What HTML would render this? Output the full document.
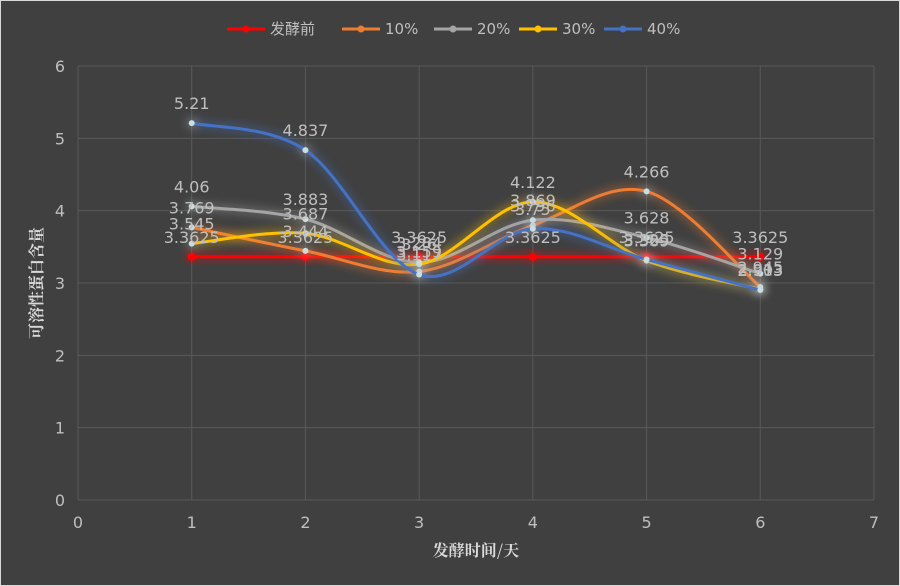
<!DOCTYPE html>
<html><head><meta charset="utf-8"><style>
html,body{margin:0;padding:0;background:#fff}
svg{display:block}
text{font-family:"DejaVu Sans","Noto Sans CJK SC",sans-serif}
</style></head><body>
<svg id="chart" width="900" height="586" xmlns="http://www.w3.org/2000/svg">
<defs>
<filter id="glow" x="-20%" y="-50%" width="140%" height="200%"><feGaussianBlur in="SourceGraphic" stdDeviation="5" result="b"/><feMerge><feMergeNode in="b"/><feMergeNode in="SourceGraphic"/></feMerge></filter>
</defs>
<rect x="0.5" y="0.5" width="899" height="585" fill="#404040" stroke="#d9d9d9"/>
<g id="grid"></g><g id="axes"></g><g id="series"></g><g id="labels"></g><g id="legend"></g>
<text x="476" y="556" fill="#d9d9d9" font-size="16" font-weight="bold" text-anchor="middle" style="font-family:'Noto Serif CJK SC',serif">发酵时间/天</text>
<text transform="translate(42,283) rotate(-90)" fill="#d9d9d9" font-size="16" font-weight="bold" text-anchor="middle" style="font-family:'Noto Serif CJK SC',serif">可溶性蛋白含量</text>
</svg>
<script>
const days=[1,2,3,4,5,6];
const seriesNames=["发酵前","10%","20%","30%","40%"];
const colors=["#ff0000","#ed7d31","#a5a5a5","#ffc000","#4472c4"];
const s0=[3.3625,3.3625,3.3625,3.3625,3.3625,3.3625];
const s10=[3.769,3.444,3.159,3.796,4.266,2.945];
const s20=[4.06,3.883,3.284,3.869,3.628,3.129];
const s30=[3.545,3.687,3.26,4.122,3.309,2.913];
const s40=[5.21,4.837,3.117,3.75,3.325,2.903];
const xTicks=[0,1,2,3,4,5,6,7];
const yTicks=[0,1,2,3,4,5,6];
const all=[s0,s10,s20,s30,s40];
const L=78,R=874,T=66,B=500;
const X=v=>L+(v-0)/(7-0)*(R-L);
const Y=v=>B-(v-0)/(6-0)*(B-T);
const NS="http://www.w3.org/2000/svg";
function mk(tag,attrs,parent){const e=document.createElementNS(NS,tag);for(const k in attrs)e.setAttribute(k,attrs[k]);parent.appendChild(e);return e;}
const grid=document.getElementById('grid'),axes=document.getElementById('axes');
yTicks.forEach(t=>{const l=mk('line',{x1:L,x2:R,y1:Y(t),y2:Y(t),stroke:'#595959'},grid);


const tx=mk('text',{x:60,y:Y(t)+6,fill:'#bfbfbf','font-size':16,'text-anchor':'middle'},axes);tx.textContent=t;

});
xTicks.forEach(t=>{const l=mk('line',{x1:X(t),x2:X(t),y1:T,y2:B,stroke:'#595959'},grid);


const tx=mk('text',{x:X(t),y:B+28,fill:'#bfbfbf','font-size':16,'text-anchor':'middle'},axes);tx.textContent=t;

});
function smooth(pts){let d=`M${pts[0][0]},${pts[0][1]}`;for(let i=0;i<pts.length-1;i++){const p0=pts[i-1]||pts[i],p1=pts[i],p2=pts[i+1],p3=pts[i+2]||p2;const k=1/6;
const c1=[p1[0]+(p2[0]-p0[0])*k,p1[1]+(p2[1]-p0[1])*k];const c2=[p2[0]-(p3[0]-p1[0])*k,p2[1]-(p3[1]-p1[1])*k];
d+=` C${c1[0]},${c1[1]} ${c2[0]},${c2[1]} ${p2[0]},${p2[1]}`;}return d;}
const sg=document.getElementById('series'),lg=document.getElementById('labels');
all.forEach((s,si)=>{const pts=days.map((d,i)=>[X(d),Y(s[i])]);
const g=mk('g',{filter:'url(#glow)'},sg);


const p=mk('path',{d:si===0?('M'+pts.map(p=>p.join(',')).join(' L')):smooth(pts),fill:'none',stroke:colors[si],'stroke-width':3},g);


pts.forEach((pt,i)=>{const c=mk('circle',{cx:pt[0],cy:pt[1],r:si===0?4:3,fill:si===0?colors[si]:'#cdd'},g);


const t=mk('text',{x:pt[0],y:pt[1]-14,fill:'#bfbfbf','font-size':16,'text-anchor':'middle'},lg);t.textContent=s[i];

});});
const leg=document.getElementById('legend');
const lx=[227,342,434,519,604];
seriesNames.forEach((n,i)=>{const g=mk('g',{},leg);


mk('line',{x1:lx[i],x2:lx[i]+38,y1:29,y2:29,stroke:colors[i],'stroke-width':3},g);
mk('circle',{cx:lx[i]+19,cy:29,r:3.5,fill:colors[i]},g);
const t=mk('text',{x:lx[i]+43,y:34,fill:'#bfbfbf','font-size':15},g);t.textContent=n;});
</script>
</body></html>
